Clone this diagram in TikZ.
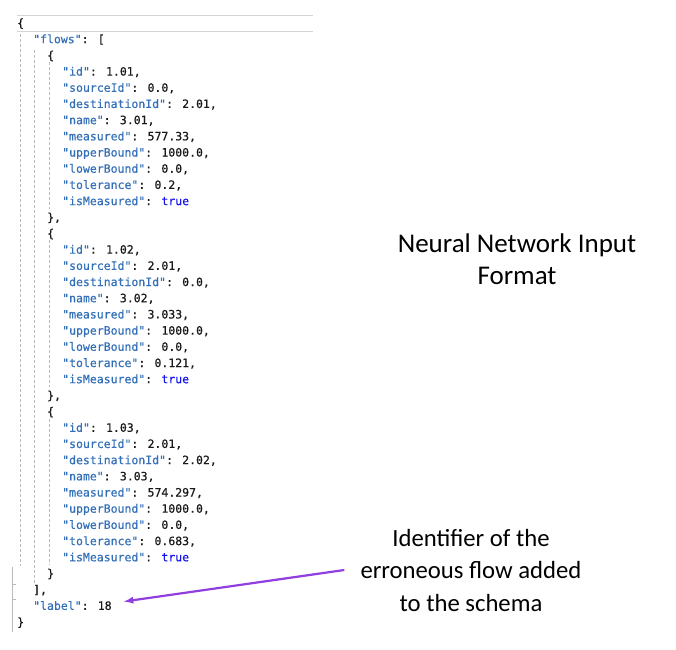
\documentclass[tikz,border=0pt]{standalone}
\usepackage{fontspec}
\setmainfont{Carlito}
\newfontfamily\codefont{DejaVu Sans Mono}[FakeBold=0.6]
\usetikzlibrary{positioning, arrows}

\definecolor{keyblue}{RGB}{52,112,184}
\definecolor{truecol}{RGB}{20,20,235}
\definecolor{guide}{RGB}{185,185,185}
\definecolor{arrowcol}{RGB}{145,62,225}

\newcommand{\jkey}[1]{\textcolor{keyblue}{"#1"}:}

\begin{document}
\begin{tikzpicture}[x=1pt, y=-1pt, >=latex,
    code/.style={anchor=base west, inner sep=0pt, text=black!90,
      font=\fontsize{11.5}{13}\selectfont\codefont},
    note/.style={align=center, inner sep=0pt}]

    \useasboundingbox (0,0) rectangle (676,649);

    % current line box of the editor
    \draw[guide!60] (17,15) -- (313,15);
    \draw[guide!60] (17,31) -- (313,31);

    % indent guides
    \draw[guide, densely dashed, line width=0.5pt] (20,34) -- (20,566);
    \draw[guide, densely dashed, line width=0.5pt] (34,50) -- (34,583);

    % folding gutter
    \draw[guide, line width=0.6pt] (12,567) -- (12,632);
    \draw[guide, line width=0.6pt] (12,584) -- (16,584);
    \draw[guide, line width=0.6pt] (12,599) -- (16,599);

    \node[code] (open) at (17, 27) {\{};
    \node[code] (flows) at (33, {27+16.19*1}) {\jkey{flows} [};

    \foreach \fid/\src/\dst/\nm/\meas/\tol [count=\k from 0] in {
        1.01/0.0/2.01/3.01/577.33/0.2,
        1.02/2.01/0.0/3.02/3.033/0.121,
        1.03/2.01/2.02/3.03/574.297/0.683} {
        \pgfmathsetmacro{\first}{2+11*\k}
        \draw[guide, densely dashed, line width=0.5pt]
            (49, {27+16.19*\first+3}) -- (49, {27+16.19*(\first+10)-12});
        \node[code] (lb\k) at (47, {27+16.19*\first}) {\{};
        \node[code] (id\k) at (62, {27+16.19*(\first+1)}) {\jkey{id} \fid,};
        \node[code] (src\k) at (62, {27+16.19*(\first+2)}) {\jkey{sourceId} \src,};
        \node[code] (dst\k) at (62, {27+16.19*(\first+3)}) {\jkey{destinationId} \dst,};
        \node[code] (name\k) at (62, {27+16.19*(\first+4)}) {\jkey{name} \nm,};
        \node[code] (meas\k) at (62, {27+16.19*(\first+5)}) {\jkey{measured} \meas,};
        \node[code] (ub\k) at (62, {27+16.19*(\first+6)}) {\jkey{upperBound} 1000.0,};
        \node[code] (lob\k) at (62, {27+16.19*(\first+7)}) {\jkey{lowerBound} 0.0,};
        \node[code] (tol\k) at (62, {27+16.19*(\first+8)}) {\jkey{tolerance} \tol,};
        \node[code] (ism\k) at (62, {27+16.19*(\first+9)}) {\jkey{isMeasured} \textcolor{truecol}{true}};
        \node[code] (rb\k) at (47, {27+16.19*(\first+10)}) {\}\ifnum\k<2,\fi};
    };

    \node[code] (close) at (33, {27+16.19*35}) {],};
    \node[code] (lbl) at (33, {27+16.19*36}) {\jkey{label} 18};
    \node[code] (end) at (17, {27+16.19*37}) {\}};

    \node[note, font=\fontsize{27}{32}\selectfont] (title) at (517, 259)
        {Neural Network Input\\Format};
    \node[note, font=\fontsize{24.7}{32.5}\selectfont] (ident) at (471, 570)
        {Identifier of the\\erroneous flow added\\to the schema};

    \draw[->, arrowcol, line width=2.2pt] ([xshift=-16pt]ident.west) -- ([xshift=12pt, yshift=4pt]lbl.east);
\end{tikzpicture}
\end{document}
